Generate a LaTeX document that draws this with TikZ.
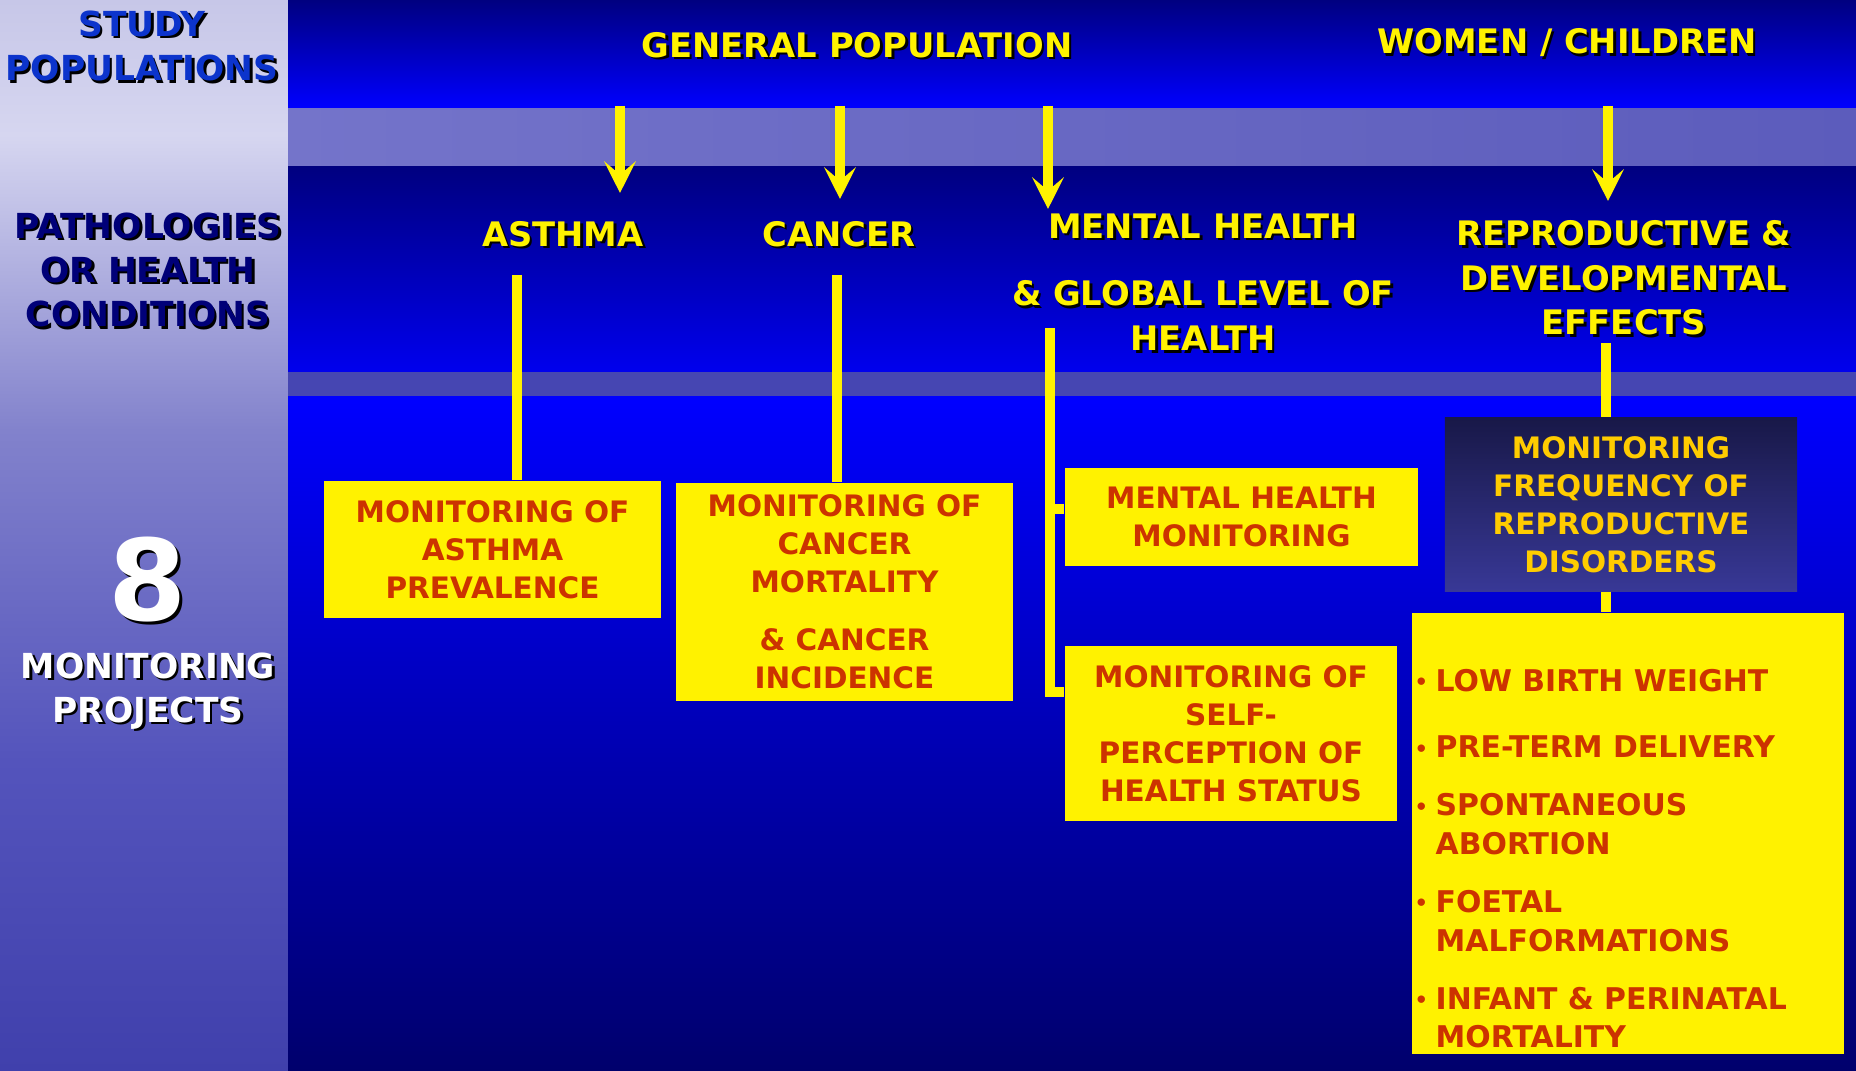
\documentclass[tikz,border=0pt]{standalone}
\usepackage{fontspec}
\setmainfont{DejaVu Sans}
\usetikzlibrary{arrows.meta,positioning}
\definecolor{navy}{RGB}{0,0,128}
\definecolor{deepnavy}{RGB}{0,0,108}
\definecolor{brightblue}{RGB}{0,0,255}
\definecolor{midblue}{RGB}{0,0,238}
\definecolor{lavA}{RGB}{199,199,232}
\definecolor{lavB}{RGB}{214,214,240}
\definecolor{lavC}{RGB}{130,130,204}
\definecolor{lavD}{RGB}{84,84,188}
\definecolor{lavE}{RGB}{64,64,172}
\definecolor{gapA}{RGB}{116,116,202}
\definecolor{gapB}{RGB}{92,92,188}
\definecolor{gapC}{RGB}{70,70,178}
\definecolor{studyblue}{RGB}{12,52,204}
\definecolor{pathnavy}{RGB}{0,0,120}
\definecolor{boxred}{RGB}{204,51,0}
\definecolor{gold}{RGB}{255,204,0}
\definecolor{frqtop}{RGB}{24,24,72}
\definecolor{frqbot}{RGB}{56,56,150}
\tikzset{
  ttl/.style={text=yellow, font={\bfseries\fontsize{9.6}{12.7}\selectfont}, align=center, inner sep=0pt},
  lefttxt/.style={font={\bfseries\fontsize{9.8}{12.6}\selectfont}, align=center, inner sep=0pt},
  eight/.style={text=white, font={\bfseries\fontsize{32}{32}\selectfont}, inner sep=0pt},
  box/.style={fill=yellow, text=boxred, font={\bfseries\fontsize{8.4}{10.8}\selectfont}, align=center, inner sep=0pt},
  darkbox/.style={top color=frqtop, bottom color=frqbot, text=gold, font={\bfseries\fontsize{8.4}{10.8}\selectfont}, align=center, inner sep=0pt},
  listtxt/.style={text=boxred, font={\bfseries\fontsize{8.5}{10.95}\selectfont}, inner sep=0pt},
  con/.style={draw=yellow, line width=2.85pt},
  arr/.style={draw=yellow, line width=3.1pt, -{Stealth[length=9pt,width=9pt,inset=3.8pt]}}
}
\def\shtext[#1](#2)(#3)#4{%
  \node[#1,text=black,xshift=0.7pt,yshift=-0.7pt] at (#3) {#4};
  \node[#1] (#2) at (#3) {#4};}
\def\bul{\makebox[0.21cm][l]{\fontsize{6}{6}\selectfont\raisebox{0.5pt}{•}}}

\begin{document}
\begin{tikzpicture}[x=0.01cm,y=-0.01cm]
  \useasboundingbox (0,0) rectangle (1856,1071);
  %%%%% BACKDROP %%%%%
  \def\lw{288}
  \shade[top color=lavA,bottom color=lavB] (0,0) rectangle (\lw,136);
  \shade[top color=lavB,bottom color=lavC] (0,135) rectangle (\lw,431);
  \shade[top color=lavC,bottom color=lavD] (0,430) rectangle (\lw,761);
  \shade[top color=lavD,bottom color=lavE] (0,760) rectangle (\lw,1071);
  \shade[left color=gapA,right color=gapB] (\lw,107) rectangle (1856,168);
  \fill[gapC] (\lw,371) rectangle (1856,398);
  \shade[top color=navy,bottom color=brightblue] (\lw,0) rectangle (1856,108);
  \shade[top color=navy,bottom color=midblue] (\lw,167) rectangle (1856,372);
  \shade[top color=brightblue,bottom color=deepnavy] (\lw,397) rectangle (1856,1071);

  %%%%% LEFT COLUMN %%%%%
  \shtext[lefttxt,text=studyblue](study)(142,46){STUDY\\POPULATIONS}
  \shtext[lefttxt,text=pathnavy](patho)(148,270){PATHOLOGIES\\OR HEALTH\\CONDITIONS}
  \shtext[eight](eight)(148,580){8}
  \shtext[lefttxt,text=white](projects)(148,691){MONITORING\\PROJECTS}

  %%%%% POPULATIONS AND PATHOLOGIES %%%%%
  \shtext[ttl](genpop)(857,45){GENERAL POPULATION}
  \shtext[ttl](women)(1567,43){WOMEN / CHILDREN}
  \shtext[ttl](asthma)(563,234){ASTHMA}
  \shtext[ttl](cancer)(839,234){CANCER}
  \shtext[ttl](mental)(1203,282){MENTAL HEALTH\\[6.6pt]\& GLOBAL LEVEL OF\\HEALTH}
  \shtext[ttl](repro)(1624,278){REPRODUCTIVE \&\\DEVELOPMENTAL\\EFFECTS}

  \coordinate (popA) at (620,106); \coordinate (tipA) at (620,193);
  \coordinate (popB) at (840,106); \coordinate (tipB) at (840,199);
  \coordinate (popC) at (1048,106); \coordinate (tipC) at (1048,209);
  \coordinate (popD) at (1608,106); \coordinate (tipD) at (1608,201);
  \draw[arr] (popA) -- (tipA);
  \draw[arr] (popB) -- (tipB);
  \draw[arr] (popC) -- (tipC);
  \draw[arr] (popD) -- (tipD);

  %%%%% MONITORING PROJECTS %%%%%
  \node[box, minimum width=3.37cm, minimum height=1.37cm] (astbox) at (492.5,549.5) {MONITORING OF\\ASTHMA\\PREVALENCE};
  \node[box, minimum width=3.37cm, minimum height=2.18cm] (canbox) at (844.5,592) {MONITORING OF\\CANCER\\MORTALITY\\[5.7pt]\& CANCER\\INCIDENCE};
  \node[box, minimum width=3.53cm, minimum height=0.98cm] (mhbox) at (1241.5,517) {MENTAL HEALTH\\MONITORING};
  \node[box, minimum width=3.32cm, minimum height=1.75cm] (spbox) at (1231,733.5) {MONITORING OF\\SELF-\\PERCEPTION OF\\HEALTH STATUS};
  \node[darkbox, minimum width=3.52cm, minimum height=1.73cm] (freqbox) at (1621,504.5) {MONITORING\\FREQUENCY OF\\REPRODUCTIVE\\DISORDERS};
  \node[box, minimum width=4.32cm, minimum height=4.41cm] (listbox) at (1628,833.5) {};
  \node[listtxt, anchor=west] (items) at (1414,862) {%
    \begin{tabular}{@{}l@{}l@{}}
      \bul & LOW BIRTH WEIGHT\\[7.9pt]
      \bul & PRE-TERM DELIVERY\\[5.6pt]
      \bul & SPONTANEOUS\\
           & ABORTION\\[5.6pt]
      \bul & FOETAL\\
           & MALFORMATIONS\\[5.6pt]
      \bul & INFANT \& PERINATAL\\
           & MORTALITY
    \end{tabular}};

  %%%%% CONNECTORS %%%%%
  \coordinate (astl) at (517,275);
  \coordinate (canl) at (837,275);
  \coordinate (mentl) at (1050,328);
  \coordinate (mentm) at (1050,509);
  \coordinate (mentb) at (1050,692);
  \coordinate (reprol) at (1606,343);
  \draw[con] (astl) -- (astl |- astbox.north);
  \draw[con] (canl) -- (canl |- canbox.north);
  \draw[con] (mentl) -- (mentb) -- (mentb -| spbox.west);
  \draw[con] (mentm) -- (mentm -| mhbox.west);
  \draw[con] (reprol) -- (reprol |- freqbox.north);
  \draw[con] (reprol |- freqbox.south) -- (reprol |- listbox.north);
\end{tikzpicture}
\end{document}
